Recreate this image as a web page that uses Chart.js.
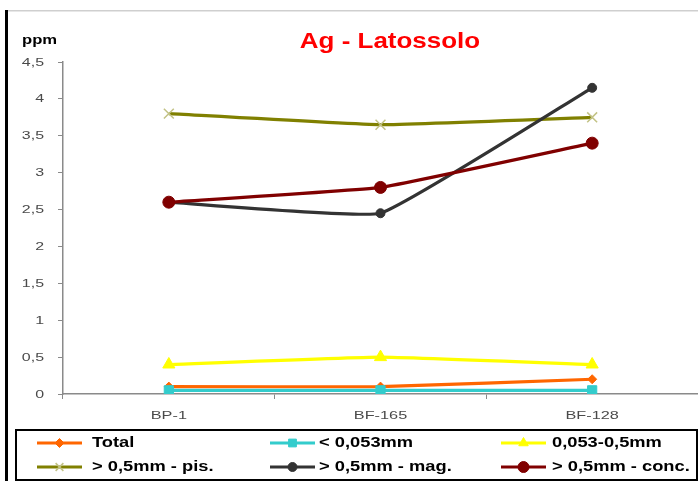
<!DOCTYPE html>
<html>
<head>
<meta charset="utf-8">
<script src="https://cdn.jsdelivr.net/npm/chart.js@4.4.1/dist/chart.umd.min.js"></script>
<style>
  html, body { margin: 0; padding: 0; background: #fff; }
  #wrap { width: 698px; height: 481px; position: relative; }
</style>
</head>
<body>
<div id="wrap"><canvas id="c" width="698" height="481"></canvas></div>
<script>
// Sampling points and Ag contents (ppm) per fraction
const categories = ['BP-1', 'BF-165', 'BF-128'];
const seriesNames = ['Total', '< 0,053mm', '0,053-0,5mm', '> 0,5mm - pis.', '> 0,5mm - mag.', '> 0,5mm - conc.'];
const totalValues = [0.1, 0.1, 0.2];
const fineValues = [0.05, 0.05, 0.05];
const mediumValues = [0.4, 0.5, 0.4];
const pisValues = [3.8, 3.65, 3.75];
const magValues = [2.6, 2.45, 4.15];
const concValues = [2.6, 2.8, 3.4];
const yTickValues = [0, 0.5, 1, 1.5, 2, 2.5, 3, 3.5, 4, 4.5];

const FONT = '"Liberation Sans", Arial, sans-serif';

const styles = [
  { color: '#FF6600', point: 'rectRot',  radius: 4.5, pointColor: '#FF6600', pbw: 1 },
  { color: '#33CCCC', point: 'rect',     radius: 6.5, pointColor: '#33CCCC', pbw: 1 },
  { color: '#FFFF00', point: 'triangle', radius: 7,   pointColor: '#FFFF00', pbw: 1 },
  { color: '#808000', point: 'crossRot', radius: 7,   pointColor: '#C2C285', pbw: 1.5 },
  { color: '#333333', point: 'circle',   radius: 4.5, pointColor: '#333333', pbw: 1 },
  { color: '#800000', point: 'circle',   radius: 6,   pointColor: '#800000', pbw: 1 }
];
const values = [totalValues, fineValues, mediumValues, pisValues, magValues, concValues];

const datasets = values.map((v, i) => ({
  label: seriesNames[i],
  data: v,
  borderColor: styles[i].color,
  backgroundColor: styles[i].color,
  borderWidth: 3.2,
  tension: 0.1,
  pointStyle: styles[i].point,
  pointRadius: styles[i].radius,
  pointBackgroundColor: styles[i].pointColor,
  pointBorderColor: styles[i].pointColor,
  pointBorderWidth: styles[i].pbw,
  order: values.length - i
}));

const fmt = v => String(v).replace('.', ',');

// Text drawn with a horizontal stretch (wide set type)
function wideText(ctx, text, x, y, sx, align) {
  ctx.save();
  ctx.translate(x, y);
  ctx.scale(sx, 1);
  ctx.textAlign = align;
  ctx.fillText(text, 0, 0);
  ctx.restore();
}

// Frame, title, unit label, axis labels and boxed three-column legend
const decorations = {
  id: 'decorations',
  afterDraw(chart) {
    const ctx = chart.ctx;
    ctx.save();
    ctx.textBaseline = 'middle';

    // left frame bar and top rule
    ctx.fillStyle = '#000';
    ctx.fillRect(5, 10, 3, 471);
    ctx.fillStyle = '#cfcfcf';
    ctx.fillRect(8, 10, 690, 1.5);

    // title
    ctx.fillStyle = '#FF0000';
    ctx.font = 'bold 22px ' + FONT;
    ctx.textBaseline = 'alphabetic';
    wideText(ctx, 'Ag - Latossolo', 390, 48, 1.18, 'center');

    // unit label
    ctx.textBaseline = 'middle';
    ctx.fillStyle = '#000';
    ctx.font = 'bold 13px ' + FONT;
    wideText(ctx, 'ppm', 22, 40, 1.28, 'left');

    // axis tick labels at the scales' tick positions
    ctx.fillStyle = '#4a4a4a';
    ctx.font = '11px ' + FONT;
    const xs = chart.scales.x, ys = chart.scales.y;
    xs.ticks.forEach((t, i) => {
      wideText(ctx, chart.data.labels[t.value], xs.getPixelForTick(i), xs.top + 22, 1.48, 'center');
    });
    ys.ticks.forEach((t, i) => {
      wideText(ctx, fmt(t.value), 44, ys.getPixelForTick(i) + 0.5, 1.45, 'right');
    });

    // legend box
    ctx.strokeStyle = '#000';
    ctx.lineWidth = 2;
    ctx.strokeRect(16, 430, 681, 50);

    const colX = [37, 270, 501];
    const textX = [92, 319, 552];
    const rowY = [443, 467];
    ctx.font = 'bold 15px ' + FONT;
    chart.data.datasets.forEach((ds, i) => {
      const x0 = colX[i % 3];
      const y = rowY[Math.floor(i / 3)];
      const x1 = x0 + 45;
      ctx.strokeStyle = ds.borderColor;
      ctx.lineWidth = 3;
      ctx.beginPath();
      ctx.moveTo(x0, y);
      ctx.lineTo(x1, y);
      ctx.stroke();
      ctx.fillStyle = ds.pointBackgroundColor;
      ctx.strokeStyle = ds.pointBorderColor;
      ctx.lineWidth = ds.pointBorderWidth;
      Chart.helpers.drawPoint(ctx, {
        pointStyle: ds.pointStyle,
        radius: Math.min(ds.pointRadius, 5.5),
        rotation: 0,
        borderWidth: ds.pointBorderWidth
      }, (x0 + x1) / 2, y);
      ctx.fillStyle = '#000';
      wideText(ctx, ds.label, textX[i % 3], y, 1.22, 'left');
    });
    ctx.restore();
  }
};

new Chart(document.getElementById('c'), {
  type: 'line',
  data: { labels: categories, datasets },
  options: {
    responsive: false,
    animation: false,
    devicePixelRatio: 1,
    layout: { autoPadding: false, padding: { top: 62, right: 0, bottom: 52, left: 0 } },
    plugins: { legend: { display: false }, title: { display: false }, tooltip: { enabled: false } },
    scales: {
      x: {
        offset: true,
        afterFit(scale) {
          scale.height = 35;
          scale.paddingLeft = 0;
          scale.paddingRight = 0;
        },
        border: { display: true, color: '#8a8a8a', width: 1.5 },
        grid: { display: true, offset: true, drawOnChartArea: false, drawTicks: true, tickLength: 5, color: '#8a8a8a' },
        ticks: { display: false }
      },
      y: {
        min: 0,
        max: 4.5,
        afterFit(scale) { scale.width = 63; },
        afterBuildTicks(scale) { scale.ticks = yTickValues.map(v => ({ value: v })); },
        border: { display: true, color: '#8a8a8a', width: 1.5 },
        grid: { display: true, drawOnChartArea: false, drawTicks: true, tickLength: 5, color: '#8a8a8a' },
        ticks: { display: false }
      }
    }
  },
  plugins: [decorations]
});
</script>
</body>
</html>
